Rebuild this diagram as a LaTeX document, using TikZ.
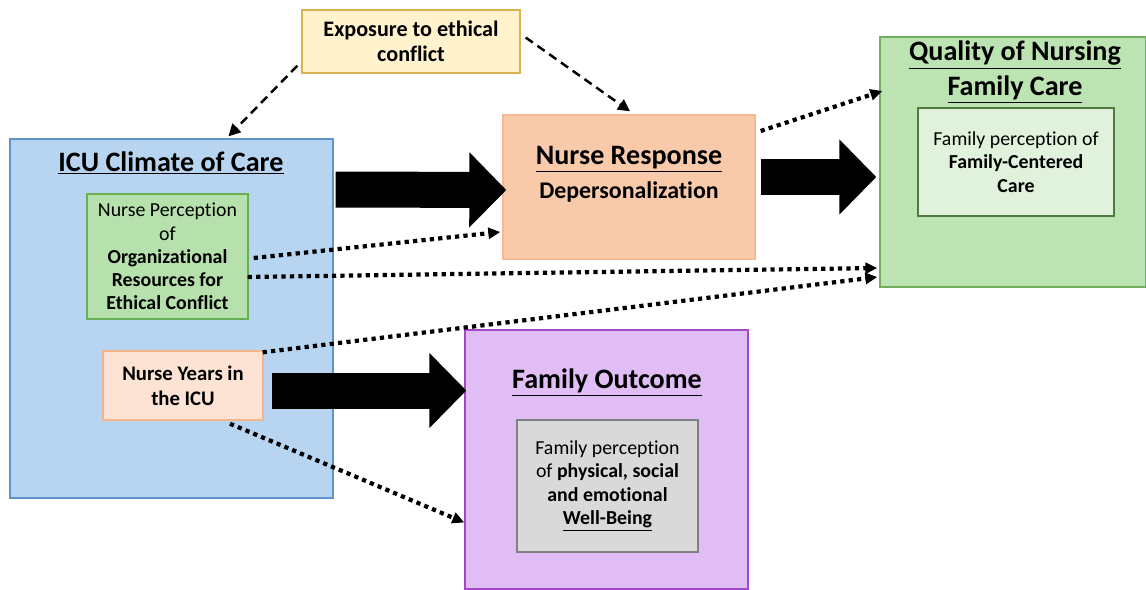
\documentclass[tikz,border=0pt]{standalone}
\usepackage{fontspec}
\setmainfont{Carlito}[RawFeature={-liga;-clig;-calt;-dlig}]
\usepackage{xcolor}
\usetikzlibrary{positioning,calc,arrows.meta}

\definecolor{icublue}{HTML}{B7D5F1}
\definecolor{icuedge}{HTML}{5F93CC}
\definecolor{orggreen}{HTML}{B6E1AC}
\definecolor{orgedge}{HTML}{6AAE55}
\definecolor{yearspeach}{HTML}{FCE3D3}
\definecolor{yearsedge}{HTML}{F3B48A}
\definecolor{expoyellow}{HTML}{FFF2CC}
\definecolor{expoedge}{HTML}{D9B34F}
\definecolor{resppeach}{HTML}{F9CAAA}
\definecolor{respedge}{HTML}{F5B995}
\definecolor{qualgreen}{HTML}{BCE3B2}
\definecolor{qualedge}{HTML}{72AE5C}
\definecolor{fccgreen}{HTML}{E1F2DC}
\definecolor{fccedge}{HTML}{4F7A3E}
\definecolor{outpurple}{HTML}{E0BDF4}
\definecolor{outedge}{HTML}{A348C6}
\definecolor{wbgrey}{HTML}{D9D9D9}
\definecolor{wbedge}{HTML}{808080}

\begin{document}
\begin{tikzpicture}[
    x=0.02cm, y=-0.02cm,
    % boxes and text
    box/.style={draw, line width=0.8pt, align=center, inner sep=0pt},
    body_text/.style={font=\fontsize{11.3}{13.2}\selectfont, align=center},
    title_text/.style={font=\bfseries\fontsize{16}{19.5}\selectfont, align=center},
    % connectors
    big_arrow/.style={-{Triangle[length=0.74cm,width=1.46cm]}, line width=0.72cm, black},
    dash_arrow/.style={-{Triangle[length=0.24cm,width=0.24cm]}, line width=1.4pt,
        dash pattern=on 5pt off 3.2pt},
    dot_arrow/.style={-{Triangle[length=0.24cm,width=0.22cm]}, line width=2.4pt,
        dash pattern=on 2.4pt off 2.4pt}
    ]
    \useasboundingbox (0,0) rectangle (1146,589);

    % --- ICU CLIMATE OF CARE ---
    \node[box, draw=icuedge, fill=icublue, minimum width=6.46cm, minimum height=7.18cm] (icu) at (171.5,318.5) {};
    \node[title_text] (icu_title) at (171,163) {\underline{ICU Climate of Care}};
    \node[box, draw=orgedge, fill=orggreen, minimum width=3.22cm, minimum height=2.5cm, body_text] (org) at (167.5,256.5)
        {Nurse Perception\\ of\\ \textbf{Organizational}\\ \textbf{Resources for}\\ \textbf{Ethical Conflict}};
    \node[box, draw=yearsedge, fill=yearspeach, minimum width=3.2cm, minimum height=1.38cm, align=center,
        font=\bfseries\fontsize{11.8}{14}\selectfont] (years) at (183,385.5)
        {Nurse Years in\\ the ICU};

    % --- EXPOSURE ---
    \node[box, draw=expoedge, fill=expoyellow, minimum width=4.36cm, minimum height=1.26cm,
        font=\bfseries\fontsize{12.6}{14.2}\selectfont] (expo) at (411,41.5)
        {Exposure to ethical\\ conflict};

    % --- NURSE RESPONSE ---
    \node[box, draw=respedge, fill=resppeach, minimum width=5.04cm, minimum height=2.88cm] (resp) at (629,187) {};
    \node[title_text] (resp_title) at (629,159) {\underline{Nurse Response}};
    \node[font=\bfseries\fontsize{13.6}{16}\selectfont, below=-0.05cm of resp_title] (resp_text) {Depersonalization};

    % --- QUALITY OF NURSING FAMILY CARE ---
    \node[box, draw=qualedge, fill=qualgreen, minimum width=5.32cm, minimum height=5cm] (qual) at (1013,162) {};
    \node[title_text] (qual_title) at (1015,72) {\underline{Quality of Nursing}\\ \underline{Family Care}};
    \node[box, draw=fccedge, fill=fccgreen, minimum width=3.92cm, minimum height=2.16cm, body_text] (fcc) at (1016,162)
        {Family perception of\\ \textbf{Family-Centered}\\ \textbf{Care}};

    % --- FAMILY OUTCOME ---
    \node[box, draw=outedge, fill=outpurple, minimum width=5.66cm, minimum height=5.18cm] (outcome) at (606.5,459.5) {};
    \node[title_text] (out_title) at (607,383) {\underline{Family Outcome}};
    \node[box, draw=wbedge, fill=wbgrey, minimum width=3.62cm, minimum height=2.64cm, body_text] (wb) at (607.5,486)
        {Family perception\\ of \textbf{physical, social}\\ \textbf{and emotional}\\ \textbf{\underline{Well-Being}}};

    % --- BLOCK ARROWS ---
    \draw[big_arrow] ($(icu.east)+(2,-129)$) -- ($(resp.west)+(4,3)$);
    \draw[big_arrow] ($(resp.east)+(5,-10)$) -- ($(qual.west)+(-3,15)$);
    \draw[big_arrow] ($(years.east)+(8,5)$) -- ($(outcome.west)+(2,-69)$);

    % --- DASHED ---
    \draw[dash_arrow] ($(expo.south west)+(-4,-8)$) -- ($(icu.north)+(57,-2)$);
    \draw[dash_arrow] ($(expo.east)+(5,-4)$) -- ($(resp.north)+(1,-3)$);

    % --- DOTTED ---
    \draw[dot_arrow] ($(org.east)+(5,1.5)$) -- ($(resp.west)+(-2,45)$);
    \draw[dot_arrow] ($(org.east)+(-1,20.5)$) -- ($(qual.west)+(-2,106)$);
    \draw[dot_arrow] ($(years.north east)+(-1,2)$) -- ($(qual.west)+(-2,115)$);
    \draw[dot_arrow] ($(years.south)+(47,3)$) -- ($(outcome.west)+(0,63)$);
    \draw[dot_arrow] ($(resp.east)+(5,-56)$) -- ($(qual.west)+(3,-71)$);
\end{tikzpicture}
\end{document}
